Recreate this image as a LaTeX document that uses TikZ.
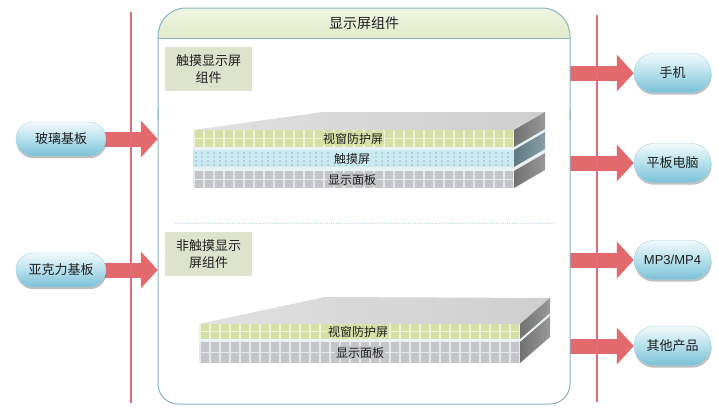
\documentclass[tikz,border=0pt]{standalone}
\usepackage{fontspec}
\setmainfont{Noto Sans CJK SC}
\newfontfamily\arialish{Liberation Sans}
\usetikzlibrary{shapes.misc,arrows.meta,shadows}
\pgfdeclarelayer{background}
\pgfsetlayers{background,main}

\definecolor{framecol}{HTML}{88B4C3}
\definecolor{hdrtop}{HTML}{F1F5E2}
\definecolor{hdrbot}{HTML}{CADDAA}
\definecolor{tagfill}{HTML}{DEE3CE}
\definecolor{ruleRed}{RGB}{226,108,120}
\definecolor{arrowred}{RGB}{226,106,108}
\definecolor{pilltop}{HTML}{F2FAFC}
\definecolor{pillmid}{HTML}{B6E0EC}
\definecolor{pillbot}{HTML}{7CC0D6}
\definecolor{greenlayer}{HTML}{D5E0A6}
\definecolor{greengrid}{HTML}{EEF2D6}
\definecolor{bluelayer}{HTML}{CBEAF2}
\definecolor{bluedot}{HTML}{557A84}
\definecolor{graylayer}{HTML}{C4C5C9}
\definecolor{graygrid}{HTML}{E6E8EC}
\definecolor{sideface}{HTML}{7E7E7E}
\definecolor{sideblue}{HTML}{6A8692}
\definecolor{inktext}{HTML}{1E1E1E}
\definecolor{seplinecol}{HTML}{BCDDE6}
\definecolor{gapcol}{HTML}{E9F3F6}

% a layer slab with a light cell grid on its front face
\newcommand\gridslab[6]{%
  \fill[#5] (#1,#2) rectangle (#3,#4);
  \begin{scope}
    \clip (#1,#2) rectangle (#3,#4);
    \foreach \gx in {1,11,...,331} \draw[#6, line width=1.2pt] ({#1+\gx},#2) -- ({#1+\gx},#4);
    \draw[#6, line width=1pt] (#1,{(#2+#4)/2}) -- (#3,{(#2+#4)/2});
  \end{scope}}
% the dotted touch layer
\newcommand\dotslab[4]{%
  \fill[bluelayer] (#1,#2) rectangle (#3,#4);
  \foreach \gx in {3,9,...,318}
    \foreach \gy in {3,7,11,15}
      \fill[bluedot] ({#1+\gx},{#2+\gy}) circle (0.65pt);}

\tikzset{
  pill/.style={rounded rectangle, inner sep=2pt, text=inktext,
    top color=pilltop, bottom color=pillbot, middle color=pillmid,
    draw=pillbot!70!white, line width=0.4pt,
    font=\fontsize{13}{15}\selectfont,
    drop shadow={shadow xshift=0.6pt, shadow yshift=-2.2pt, opacity=0.45, fill=black!55}},
  leftpill/.style={pill, minimum width=94pt, minimum height=34pt},
  rightpill/.style={pill, minimum width=81pt, minimum height=39pt},
  bigarrow/.style={draw=arrowred, line width=15pt, -{Triangle[width=36pt,length=17pt]}},
  redrule/.style={draw=ruleRed, line width=1.1pt},
  frameline/.style={draw=framecol, line width=1pt},
  tagbox/.style={fill=tagfill, minimum width=87pt, minimum height=44pt, align=center,
    inner sep=2pt, text=inktext, font=\fontsize{13}{16.5}\selectfont},
  layertext/.style={inner sep=1pt, text=inktext, font=\fontsize{12}{13}\selectfont},
  sepline/.style={draw=seplinecol, line width=0.8pt, dash pattern=on 1pt off 1.2pt}
}

\begin{document}
\begin{tikzpicture}[x=1pt,y=-1pt]
\useasboundingbox (0,0) rectangle (719,408);
\begin{pgfonlayer}{background}
  \fill[white] (0,0) rectangle (719,408);
\end{pgfonlayer}

% main assembly frame
\node[inner sep=0, minimum width=412pt, minimum height=396pt] (assembly) at (364,206) {};
\begin{scope}
  \clip (150,0) rectangle (580,38);
  \shade[top color=hdrtop, bottom color=hdrbot, rounded corners=28pt] (158,8) rectangle (570,80);
\end{scope}
\draw[frameline, rounded corners=28pt] (158,120) -- (158,8) -- (570,8) -- (570,120);
\draw[frameline, rounded corners=20pt] (158,110) -- (158,404) -- (570,404) -- (570,110);
\draw[frameline] (158,38) -- (570,38);
\node[text=inktext, font=\fontsize{14}{16}\selectfont] (title) at (364,23) {显示屏组件};

% group tags and separator
\node[tagbox] (touchtag) at (208.5,69) {触摸显示屏\\组件};
\node[tagbox] (plaintag) at (208.5,254) {非触摸显示\\屏组件};
\coordinate (sepL) at (175,223);
\coordinate (sepR) at (555,223);
\draw[sepline] (sepL) -- (sepR);

% touch display stack
\fill[gapcol] (193,147) rectangle (514,171);
\fill[gapcol] (514,147) -- (545,129) -- (545,153) -- (514,171) -- cycle;
\shade[left color=black!12, right color=black!19] (193,130) -- (323,112) -- (545,112) -- (514,130) -- cycle;
\gridslab{193}{130}{514}{147}{greenlayer}{greengrid}
\dotslab{193}{150}{514}{167}
\gridslab{193}{171}{514}{188}{graylayer}{graygrid}
\shade[left color=sideface!90!black, right color=sideface!80!white] (514,130) -- (545,112) -- (545,129) -- (514,147) -- cycle;
\shade[left color=sideblue!90!black, right color=sideblue!80!white] (514,150) -- (545,132) -- (545,149) -- (514,167) -- cycle;
\shade[left color=sideface!90!black, right color=sideface!80!white] (514,171) -- (545,153) -- (545,170) -- (514,188) -- cycle;
\node[layertext, fill=greenlayer] (win1) at (353,138.5) {视窗防护屏};
\node[layertext, fill=bluelayer] (touch1) at (352,158.5) {触摸屏};
\node[layertext, fill=graylayer] (panel1) at (352,179.5) {显示面板};

% non-touch display stack
\fill[gapcol] (199,339) rectangle (520,342);
\fill[gapcol] (520,339) -- (550,313) -- (550,316) -- (520,342) -- cycle;
\shade[left color=black!12, right color=black!19] (199,324) -- (325,297) -- (550,298) -- (520,324) -- cycle;
\gridslab{199}{324}{520}{339}{greenlayer}{greengrid}
\gridslab{199}{342}{520}{363}{graylayer}{graygrid}
\shade[left color=sideface!90!black, right color=sideface!80!white] (520,324) -- (550,298) -- (550,313) -- (520,339) -- cycle;
\shade[left color=sideface!90!black, right color=sideface!80!white] (520,342) -- (550,316) -- (550,337) -- (520,363) -- cycle;
\node[layertext, fill=greenlayer] (win2) at (358,331.5) {视窗防护屏};
\node[layertext, fill=graylayer] (panel2) at (360,352.5) {显示面板};

% substrates and products
\node[leftpill] (glass) at (61,139) {玻璃基板};
\node[leftpill] (acrylic) at (61,270) {亚克力基板};
\node[rightpill] (phone) at (672.5,73) {手机};
\node[rightpill] (tablet) at (672.5,163) {平板电脑};
\node[rightpill] (player) at (672.5,260) {\arialish MP3/MP4};
\node[rightpill] (other) at (672.5,346) {其他产品};

% flow arrows
\begin{pgfonlayer}{background}
  \draw[bigarrow] (glass.center) -- (glass.center -| assembly.west);
  \draw[bigarrow] (acrylic.center) -- (acrylic.center -| assembly.west);
  \draw[bigarrow] (phone.center -| assembly.east) -- (phone.west);
  \draw[bigarrow] (tablet.center -| assembly.east) -- (tablet.west);
  \draw[bigarrow] (player.center -| assembly.east) -- (player.west);
  \draw[bigarrow] (other.center -| assembly.east) -- (other.west);
\end{pgfonlayer}

% boundary rules
\coordinate (ruleLtop) at (131,12);
\coordinate (ruleLbot) at (131,403);
\coordinate (ruleRtop) at (597,15);
\coordinate (ruleRbot) at (597,402);
\draw[redrule] (ruleLtop) -- (ruleLbot);
\draw[redrule] (ruleRtop) -- (ruleRbot);
\end{tikzpicture}
\end{document}
